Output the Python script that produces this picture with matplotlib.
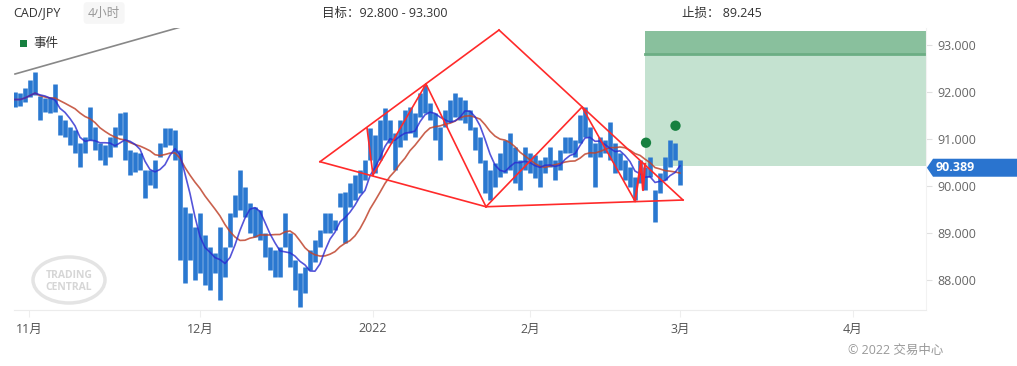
import numpy as np
import pandas as pd
import matplotlib
matplotlib.use("Agg")
import matplotlib.pyplot as plt
from matplotlib.patches import Rectangle, Polygon, Ellipse
import matplotlib.transforms as mtransforms

plt.rcParams['font.family'] = ['Open Sans', 'Noto Sans CJK SC', 'DejaVu Sans']

# ---------------- data (4h bars, resampled, trading-time index) ----------------
highs = [92.00, 91.98, 92.09, 92.26, 92.43, 91.91, 91.87, 91.89, 92.17, 91.51,
         91.40, 91.26, 91.19, 90.91, 91.04, 91.68, 91.26, 90.91, 90.87, 91.04,
         91.26, 91.55, 91.57, 90.77, 90.72, 90.70, 90.34, 90.34, 90.55, 90.91,
         91.23, 91.23, 91.19, 90.77, 89.55, 89.43, 89.13, 89.43, 88.96, 88.70,
         88.57, 89.13, 88.70, 89.43, 89.81, 90.34, 89.98, 89.64, 89.55, 89.49,
         89.00, 88.70, 88.64, 88.70, 89.43, 89.00, 88.43, 88.15, 88.28, 88.64,
         88.85, 89.06, 89.43, 89.43, 89.28, 89.85, 89.87, 90.06, 90.23, 90.34,
         90.55, 91.23, 91.09, 91.40, 91.66, 91.40, 91.13, 91.40, 91.62, 91.68,
         91.55, 91.98, 92.15, 91.77, 91.55, 91.26, 91.62, 91.83, 91.98, 91.89,
         91.83, 91.62, 91.26, 91.04, 90.55, 90.34, 90.49, 90.70, 90.98, 91.13,
         90.83, 90.55, 90.83, 90.70, 90.66, 90.55, 90.62, 90.83, 90.55, 90.77,
         91.04, 91.04, 90.98, 91.51, 91.68, 91.26, 90.91, 91.04, 90.98, 91.36,
         90.91, 90.70, 90.55, 90.40, 90.19, 90.55, 90.40, 90.62, 89.91, 90.28,
         90.62, 90.98, 90.91, 90.55]
lows = [91.68, 91.70, 91.79, 91.89, 91.94, 91.40, 91.57, 91.55, 91.57, 91.09,
        91.04, 90.87, 90.70, 90.40, 90.70, 90.98, 90.77, 90.55, 90.45, 90.62,
        90.83, 91.09, 90.55, 90.23, 90.30, 90.34, 89.74, 90.02, 89.96, 90.62,
        90.83, 90.87, 90.55, 88.43, 87.94, 88.43, 88.00, 88.15, 87.89, 87.79,
        88.15, 87.57, 88.06, 88.70, 89.34, 89.49, 89.34, 89.00, 88.91, 88.85,
        88.49, 88.21, 88.06, 88.06, 88.70, 88.28, 87.79, 87.43, 87.72, 88.21,
        88.38, 88.70, 89.00, 89.00, 89.06, 89.55, 88.79, 89.55, 89.70, 89.85,
        90.13, 90.55, 90.28, 90.55, 90.98, 90.91, 90.34, 90.83, 90.98, 91.13,
        91.04, 91.47, 91.55, 91.40, 90.98, 90.55, 91.26, 91.36, 91.47, 91.40,
        91.34, 91.19, 90.77, 90.49, 89.85, 89.70, 89.98, 90.19, 90.28, 90.34,
        90.06, 89.91, 90.34, 90.28, 90.17, 89.98, 90.28, 90.40, 90.13, 90.34,
        90.70, 90.70, 90.62, 90.91, 91.04, 90.62, 89.98, 90.62, 90.70, 90.55,
        90.28, 90.34, 90.13, 89.98, 89.70, 90.06, 89.91, 90.19, 89.23, 89.85,
        90.13, 90.40, 90.55, 90.02]

month_ticks = [2.8, 37.0, 71.6, 103.0, 133.0, 167.6]
month_labels = ['11月', '12月', '2022', '2月', '3月', '4月']
y_ticks = [88.0, 89.0, 90.0, 91.0, 92.0, 93.0]

last_price = 90.389
target_low, target_high = 92.800, 93.300
entry_level = 90.43
stop_loss = 89.245
box_start = 126.0

# chart pattern vertices (bar index, price)
pat_L = (61.0, 90.517)
pat_A = (96.8, 93.319)
pat_P1 = (70.4, 91.234)
pat_P2 = (71.6, 90.234)
pat_P3 = (82.2, 92.170)
pat_B = (94.2, 89.559)
pat_P4 = (113.4, 91.680)
pat_P5 = (124.0, 89.680)
pat_R = (133.6, 89.702)
pat_Z = [(124.0, 89.680), (125.2, 90.510), (125.6, 89.914), (126.0, 90.468)]

events_x = [126.2, 132.1]
events_y = [90.921, 91.283]

trend_x = [0.0, 40.0]
trend_y = [92.383, 93.59]

# ---------------- figure ----------------
W, H = 1017, 366
fig = plt.figure(figsize=(W / 100, H / 100), dpi=100)
fig.patch.set_facecolor('white')
ax = fig.add_axes([14 / W, 56 / H, 912 / W, 282 / H])

idx = np.arange(len(highs))
hi = np.array(highs)
lo = np.array(lows)
mid = pd.Series((hi + lo) / 2.0)
ma_fast = mid.rolling(5, min_periods=1).mean()
ma_slow = mid.rolling(13, min_periods=1).mean()

# target zone
ax.add_patch(Rectangle((box_start, entry_level), 300, target_low - entry_level,
                       facecolor='#c4e2d0', edgecolor='none', zorder=1))
ax.add_patch(Rectangle((box_start, target_low), 300, target_high - target_low,
                       facecolor='#89c09d', edgecolor='none', zorder=1))
ax.plot([box_start, 300], [target_low, target_low], color='#6cae84', lw=2, zorder=1.5)

# bars
ax.vlines(idx, lo, hi, color='#2a78d0', lw=3.3, zorder=3)

# moving averages
ax.plot(idx, ma_slow, color='#c0452e', lw=1.2, alpha=0.85, zorder=4)
ax.plot(idx, ma_fast, color='#2a2ad0', lw=1.2, alpha=0.8, zorder=4)

# trend line
ax.plot(trend_x, trend_y, color='#888888', lw=1.2, zorder=2)

# pattern
red = '#ff2a2a'
segs = [(pat_L, pat_A), (pat_A, pat_R), (pat_L, pat_B), (pat_B, pat_R),
        (pat_P1, pat_P2), (pat_P2, pat_P3), (pat_P3, pat_B), (pat_B, pat_P4),
        (pat_P4, pat_P5)]
for a, b in segs:
    ax.plot([a[0], b[0]], [a[1], b[1]], color=red, lw=1.2, zorder=5)
zx, zy = zip(*pat_Z)
ax.plot(zx, zy, color=red, lw=1.6, zorder=5)

# events
ax.scatter(events_x, events_y, s=55, color='#178040', zorder=6, edgecolors='none')

ax.set_xlim(-0.2, 182.2)
ax.set_ylim(87.362, 93.362)

for s in ['top', 'left']:
    ax.spines[s].set_visible(False)
ax.spines['bottom'].set_color('#ececec')
ax.spines['right'].set_color('#f2f2f2')

ax.yaxis.tick_right()
ax.set_yticks(y_ticks)
ax.set_yticklabels([f'{v:.3f}' for v in y_ticks])
ax.tick_params(axis='y', length=4, color='#e0e0e0', pad=4, labelsize=9, labelcolor='#666666')
ax.set_xticks(month_ticks)
ax.set_xticklabels(month_labels)
ax.tick_params(axis='x', length=5, color='#eeeeee', pad=4, labelsize=9, labelcolor='#555555')

# last price tag
trans = mtransforms.blended_transform_factory(ax.transAxes, ax.transData)
hh = 9 / 47.0
tag = Polygon([(1.001, last_price), (1.0077, last_price + hh), (1.12, last_price + hh),
               (1.12, last_price - hh), (1.0077, last_price - hh)],
              closed=True, transform=trans, facecolor='#2a74cf', edgecolor='none',
              clip_on=False, zorder=10)
ax.add_patch(tag)
ax.text(1.0105, last_price, f'{last_price:.3f}', transform=trans, ha='left', va='center',
        color='white', fontsize=9, fontweight='bold', clip_on=False, zorder=11)

# Trading Central logo
logo = Ellipse((69, H - 280), 72, 46, transform=None, facecolor='none',
               edgecolor='#e4e4e4', lw=2.5, zorder=0)
fig.patches.append(logo)
fig.text(69 / W, 1 - 276 / H, 'TRADING', ha='center', va='center', color='#d6d6d6',
         fontsize=7.5, fontweight='bold')
fig.text(69 / W, 1 - 287 / H, 'CENTRAL', ha='center', va='center', color='#d6d6d6',
         fontsize=7.5, fontweight='bold')

# header texts
fig.text(13 / W, 1 - 13 / H, 'CAD/JPY', ha='left', va='center', color='#333333', fontsize=9)
fig.text(88 / W, 1 - 13 / H, '4小时', ha='left', va='center', color='#999999', fontsize=9,
         bbox=dict(boxstyle='round,pad=0.35,rounding_size=0.3', facecolor='#f6f6f6', edgecolor='none'))
fig.text(322 / W, 1 - 13 / H, f'目标：{target_low:.3f} - {target_high:.3f}', ha='left', va='center',
         color='#333333', fontsize=9)
fig.text(682 / W, 1 - 13 / H, f'止损： {stop_loss:.3f}', ha='left', va='center',
         color='#333333', fontsize=9)

# legend
fig.patches.append(Rectangle((20, H - 47), 7, 7, transform=None, facecolor='#178040', edgecolor='none'))
fig.text(33 / W, 1 - 43 / H, '事件', ha='left', va='center', color='#333333', fontsize=9)

# copyright
fig.text(848 / W, 1 - 350 / H, '© 2022 交易中心', ha='left', va='center', color='#999999', fontsize=9)

fig.savefig('out.png', dpi=100, facecolor='white')
